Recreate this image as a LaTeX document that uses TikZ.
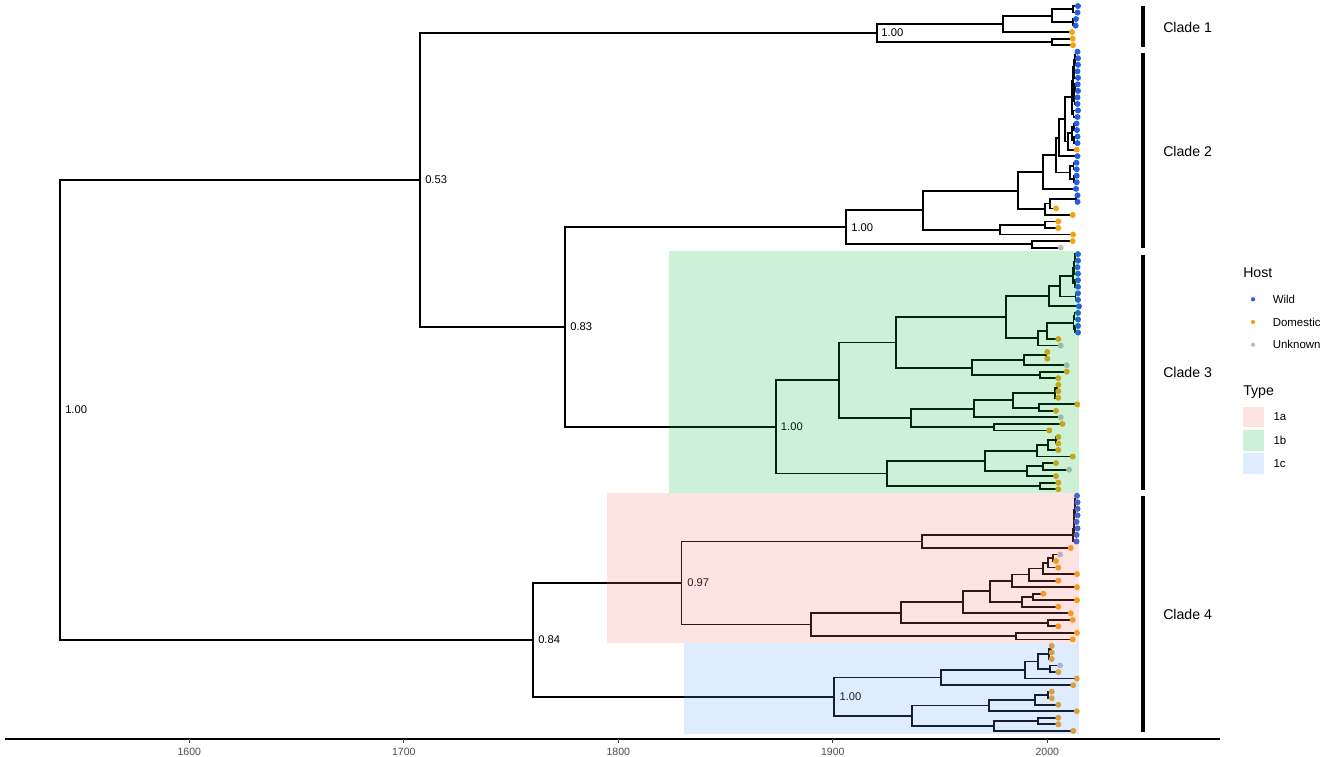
\documentclass[tikz,border=0pt]{standalone}
\usepackage{fontspec}
\setmainfont{Liberation Sans}
\usetikzlibrary{calc}
\definecolor{wildc}{RGB}{36,94,228}
\definecolor{domc}{RGB}{246,162,20}
\definecolor{unkc}{RGB}{190,190,190}
\definecolor{ta}{HTML}{F8766D}
\definecolor{tb}{HTML}{00BA38}
\definecolor{tc}{HTML}{619CFF}
\definecolor{axgray}{HTML}{4D4D4D}
\tikzset{
  edge/.style={line width=1.35pt, black},
  blab/.style={anchor=west, inner sep=0pt, font=\fontsize{8.4}{10}\selectfont},
  ticklab/.style={anchor=north, inner sep=0pt, text=axgray, font=\fontsize{7.9}{9}\selectfont},
  cladelab/.style={anchor=west, inner sep=0pt, font=\fontsize{10.6}{12}\selectfont},
  legtitle/.style={anchor=west, inner sep=0pt, font=\fontsize{10.6}{12}\selectfont},
  legitem/.style={anchor=west, inner sep=0pt, font=\fontsize{8.6}{10}\selectfont},
  cladebar/.style={line width=3pt, black},
}
\newcommand{\nd}[4]{%
  \path ($(#3)!0.5!(#4)$) coordinate (#1m);
  \coordinate (#1x) at (#2,0);
  \coordinate (#1) at (#1x |- #1m);
  \draw[edge] (#3) -| (#1) |- (#4);}
\begin{document}
\begin{tikzpicture}[x=0.75pt, y=-0.75pt]
\path[use as bounding box] (0,0) rectangle (1325,757);
\fill[white] (0,0) rectangle (1325,757);
% tips
\foreach \i/\x in {1/1078, 2/1077.5, 3/1076, 4/1075.7, 5/1072, 6/1072.7, 7/1073,
8/1077.5, 9/1078, 10/1078, 11/1077.5, 12/1078, 13/1077.7, 14/1078, 15/1077.5, 16/1077.5, 17/1078, 18/1077.5, 19/1076.5, 20/1077, 21/1077.5, 22/1077.5, 23/1076.7, 24/1077.5, 25/1076.5, 26/1076.7, 27/1076.7, 28/1076.7, 29/1076, 30/1077.5, 31/1077.5, 32/1056, 33/1072.7, 34/1058.3, 35/1058.3, 36/1073, 37/1072.7, 38/1060.7,
39/1078, 40/1078, 41/1077.5, 42/1078, 43/1078, 44/1078, 45/1078, 46/1078, 47/1079, 48/1078, 49/1078, 50/1078, 51/1078, 52/1058.3, 53/1060.7, 54/1047.3, 55/1047.3, 56/1066.7, 57/1066.7, 58/1058.3, 59/1058.3, 60/1058.3, 61/1058.3, 62/1077.3, 63/1056, 64/1060.7, 65/1062.3, 66/1049.3, 67/1058.3, 68/1058.3, 69/1058.3, 70/1072.7, 71/1056, 72/1069, 73/1056, 74/1058.3, 75/1058.3,
76/1077, 77/1077.5, 78/1077.5, 79/1077.5, 80/1076.5, 81/1077.5, 82/1076.5, 83/1076.5, 84/1070.7, 85/1060, 86/1056, 87/1058.3, 88/1077, 89/1058.3, 90/1077, 91/1043.3, 92/1077, 93/1058.3, 94/1070.7, 95/1072.7, 96/1058.3, 97/1077, 98/1072.7, 99/1051.7, 100/1051.7, 101/1051.7, 102/1060, 103/1058.3, 104/1076.7, 105/1073.3, 106/1051.7, 107/1051.7, 108/1058.3, 109/1076.7, 110/1058.3, 111/1058.3, 112/1073.3}
  \coordinate (t\i) at (\x,{6+(\i-1)*6.53});
% clade 1
\nd{c1a}{1073.3}{t1}{t2}
\nd{c1b}{1073}{t3}{t4}
\nd{c1c}{1051.7}{c1a}{c1b}
\nd{c1d}{1002.7}{c1c}{t5}
\nd{c1e}{1052}{t6}{t7}
\nd{C1}{876.7}{c1d}{c1e}
% clade 2
\nd{b1}{1075.5}{t8}{t9}
\nd{b2}{1075}{b1}{t10}
\nd{b3}{1074.5}{t11}{t12}
\nd{b4}{1074}{b2}{b3}
\nd{b5}{1075}{t13}{t14}
\nd{b6}{1074.5}{t15}{t16}
\nd{b7}{1074}{b5}{b6}
\nd{b8}{1073}{b4}{b7}
\nd{b9}{1073.5}{t17}{t18}
\nd{c2H}{1071.7}{b8}{b9}
\nd{b11}{1074}{t19}{t20}
\nd{b12}{1074}{t21}{t22}
\nd{b10}{1072}{b11}{b12}
\nd{c2G}{1068.3}{b10}{t23}
\nd{c2F}{1065}{c2H}{c2G}
\nd{c2E}{1059.3}{c2F}{t24}
\nd{b13}{1073.5}{t25}{t26}
\nd{b14}{1074}{t27}{t28}
\nd{c2Q}{1070}{b13}{b14}
\nd{c2D}{1056}{c2E}{c2Q}
\nd{c2C}{1042.7}{c2D}{t29}
\nd{c2U}{1076}{t30}{t31}
\nd{c2V}{1050}{c2U}{t32}
\nd{c2W}{1045}{c2V}{t33}
\nd{c2B}{1018.3}{c2C}{c2W}
\nd{c2X}{1045}{t34}{t35}
\nd{c2Y}{1000}{c2X}{t36}
\nd{c2A}{923.3}{c2B}{c2Y}
\nd{c2Z}{1031.7}{t37}{t38}
\nd{C2}{846}{c2A}{c2Z}
% clade 3
\nd{d1}{1075}{t39}{t40}
\nd{d2}{1074.5}{d1}{t41}
\nd{d3}{1074}{d2}{t42}
\nd{d4}{1075}{t43}{t44}
\nd{d5}{1073.3}{d3}{d4}
\nd{d6}{1075.5}{t45}{t46}
\nd{c3E}{1060}{d5}{d6}
\nd{c3D}{1049.3}{c3E}{t47}
\nd{d7}{1074.5}{t48}{t49}
\nd{d8}{1075}{t50}{t51}
\nd{d9}{1073.5}{d7}{d8}
\nd{c3G}{1047.3}{d9}{t52}
\nd{c3F}{1038.3}{c3G}{t53}
\nd{c3C}{1005.7}{c3D}{c3F}
\nd{d10}{1046}{t54}{t55}
\nd{c3I}{1024}{d10}{t56}
\nd{d11}{1040}{t57}{t58}
\nd{c3H}{972.3}{c3I}{d11}
\nd{c3B}{896}{c3C}{c3H}
\nd{d12}{1056.7}{t59}{t60}
\nd{d13}{1055}{d12}{t61}
\nd{d14}{1039.3}{t62}{t63}
\nd{c3L}{1013.3}{d13}{d14}
\nd{c3K}{974}{c3L}{t64}
\nd{d15}{994.3}{t65}{t66}
\nd{c3J}{910.7}{c3K}{d15}
\nd{c3A}{839.3}{c3B}{c3J}
\nd{d16}{1056}{t67}{t68}
\nd{d17}{1048.3}{d16}{t69}
\nd{c3O}{1037.3}{d17}{t70}
\nd{d18}{1042.7}{t71}{t72}
\nd{c3P}{1026.7}{d18}{t73}
\nd{c3N}{985}{c3O}{c3P}
\nd{d19}{1040}{t74}{t75}
\nd{c3M}{886.7}{c3N}{d19}
\nd{C3}{775.7}{c3A}{c3M}
% clade 4
\nd{e1}{1075.5}{t76}{t77}
\nd{e2}{1075}{e1}{t78}
\nd{e3}{1074.6}{e2}{t79}
\nd{e4}{1074.3}{e3}{t80}
\nd{e5}{1074}{e4}{t81}
\nd{e6}{1073.7}{e5}{t82}
\nd{e7}{1073.3}{e6}{t83}
\nd{c4B}{922.3}{e7}{t84}
\nd{c4K}{1052.7}{t85}{t86}
\nd{c4J}{1048.3}{c4K}{t87}
\nd{c4I}{1043.3}{c4J}{t88}
\nd{c4H}{1029.3}{c4I}{t89}
\nd{c4G}{1012.3}{c4H}{t90}
\nd{c4M}{1032.7}{t91}{t92}
\nd{c4L}{1021.7}{c4M}{t93}
\nd{c4F}{990}{c4G}{c4L}
\nd{c4E}{962.7}{c4F}{t94}
\nd{c4N}{1048.3}{t95}{t96}
\nd{c4D}{901}{c4E}{c4N}
\nd{c4O}{1015.7}{t97}{t98}
\nd{c4C}{810.7}{c4D}{c4O}
\nd{C4a}{681.5}{c4B}{c4C}
\nd{f1}{1050.7}{t99}{t100}
\nd{c4S}{1049.3}{f1}{t101}
\nd{c4T}{1050}{t102}{t103}
\nd{c4R}{1037.7}{c4S}{c4T}
\nd{c4Q}{1025}{c4R}{t104}
\nd{c4P}{941}{c4Q}{t105}
\nd{f2}{1047.7}{t106}{t107}
\nd{c4W}{1035.3}{f2}{t108}
\nd{c4V}{989}{c4W}{t109}
\nd{f3}{1038.3}{t110}{t111}
\nd{c4X}{994}{f3}{t112}
\nd{c4U}{911.7}{c4V}{c4X}
\nd{C4c}{834.3}{c4P}{c4U}
\nd{C4}{533}{C4a}{C4c}
% backbone
\nd{X2}{565}{C2}{C3}
\nd{X1}{420}{C1}{X2}
\nd{R}{60}{X1}{C4}
% tip dots
\foreach \i in {1,2,3,4,8,9,10,11,12,13,14,15,16,17,18,19,20,21,22,24,25,26,27,28,29,30,31,39,40,41,42,43,44,45,46,47,48,49,50,51,76,77,78,79,80,81,82,83}
  \fill[wildc] (t\i) circle[radius=2.25pt];
\foreach \i in {5,6,7,23,32,33,34,35,36,37,52,54,55,57,58,59,60,61,62,63,65,66,67,68,69,70,71,73,74,75,84,86,87,88,89,90,91,92,93,94,95,96,97,98,99,100,101,103,104,105,106,107,108,109,110,111,112}
  \fill[domc] (t\i) circle[radius=2.25pt];
\foreach \i in {38,53,56,64,72,85,102}
  \fill[unkc] (t\i) circle[radius=2.25pt];
% support labels
\node[blab] (lR) at ($(R)+(5,0)$) {1.00};
\node[blab] (lX1) at ($(X1)+(5,0)$) {0.53};
\node[blab] (lX2) at ($(X2)+(5,0)$) {0.83};
\node[blab] (lC1) at ($(C1)+(4.5,0)$) {1.00};
\node[blab] (lC2) at ($(C2)+(5,0)$) {1.00};
\node[blab] (lC3) at ($(C3)+(5,0)$) {1.00};
\node[blab] (lC4) at ($(C4)+(5,0)$) {0.84};
\node[blab] (lC4a) at ($(C4a)+(5.5,0)$) {0.97};
\node[blab] (lC4c) at ($(C4c)+(5,0)$) {1.00};
% type highlight rectangles (overlay)
\fill[tb, fill opacity=0.2] (669,251) rectangle (1079,492.6);
\fill[ta, fill opacity=0.2] (607,493.2) rectangle (1079,642.6);
\fill[tc, fill opacity=0.2] (683.5,643) rectangle (1079,734);
% clade bars
\draw[cladebar] (1143,5.5) -- (1143,46.5);
\draw[cladebar] (1143,53) -- (1143,247.5);
\draw[cladebar] (1143,255) -- (1143,489.5);
\draw[cladebar] (1143,496) -- (1143,731.5);
\node[cladelab] (cl1) at (1163,27) {Clade 1};
\node[cladelab] (cl2) at (1163,151) {Clade 2};
\node[cladelab] (cl3) at (1163,372) {Clade 3};
\node[cladelab] (cl4) at (1163,614) {Clade 4};
% legend
\node[legtitle] (lgH) at (1243,273) {Host};
\fill[wildc] (1253,299.3) circle[radius=1.6pt];
\fill[domc] (1253,322) circle[radius=1.6pt];
\fill[unkc] (1253,344.7) circle[radius=1.6pt];
\node[legitem] (lgW) at (1272.5,299.3) {Wild};
\node[legitem] (lgD) at (1272.5,322) {Domestic};
\node[legitem] (lgU) at (1272.5,344.7) {Unknown};
\node[legtitle] (lgT) at (1243,392.3) {Type};
\fill[ta, fill opacity=0.2] (1243.3,406.7) rectangle (1264.3,427.3);
\fill[tb, fill opacity=0.2] (1243.3,430) rectangle (1264.3,450.7);
\fill[tc, fill opacity=0.2] (1243.3,453.4) rectangle (1264.3,474);
\node[legitem] (lga) at (1273.3,417) {1a};
\node[legitem] (lgb) at (1273.3,440.3) {1b};
\node[legitem] (lgc) at (1273.3,463.7) {1c};
% axis
\draw[line width=1.1pt] (5,739) -- (1220,739);
\foreach \yr/\xx in {1600/189.3,1700/403.8,1800/618.3,1900/832.8,2000/1047.3}{
  \draw[line width=0.8pt, axgray] (\xx,739) -- (\xx,743);
  \node[ticklab] (tk\yr) at (\xx,747.5) {\yr};
}
\end{tikzpicture}
\end{document}
